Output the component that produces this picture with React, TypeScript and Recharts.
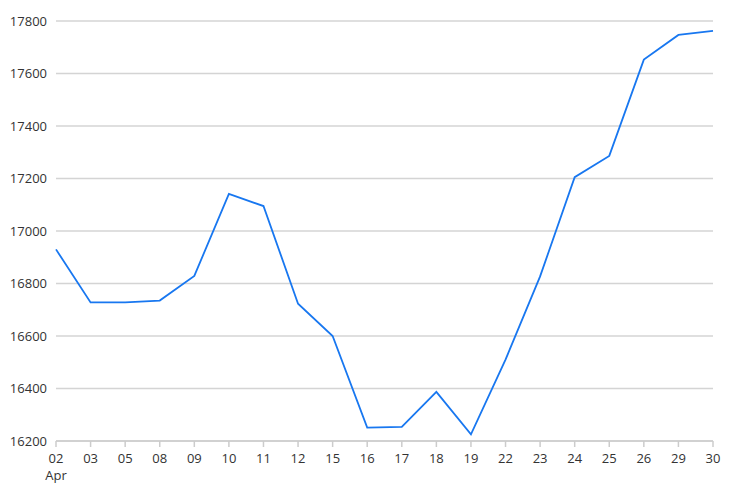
import React from 'react';
import { LineChart, Line, XAxis, YAxis, CartesianGrid } from 'recharts';

const days = ['02', '03', '05', '08', '09', '10', '11', '12', '15', '16', '17', '18', '19', '22', '23', '24', '25', '26', '29', '30'];
const prices = [16930, 16728, 16728, 16735, 16829, 17141, 17095, 16723, 16600, 16251, 16254, 16387, 16225, 16510, 16827, 17205, 17286, 17653, 17747, 17762];
const yTicks = [16200, 16400, 16600, 16800, 17000, 17200, 17400, 17600, 17800];

const data = days.map((d, i) => ({ day: d, price: prices[i] }));

const font = "'Open Sans', sans-serif";

function DayTick(props: any) {
  const { x, y, payload, index } = props;
  return (
    <g transform={`translate(${x},${y})`}>
      <text x={0} y={0} dy={14} textAnchor="middle" fill="#333" fontSize={13} fontFamily={font}>
        {payload.value}
      </text>
      {index === 0 && (
        <text x={0} y={0} dy={31} textAnchor="middle" fill="#333" fontSize={13} fontFamily={font}>
          Apr
        </text>
      )}
    </g>
  );
}

export default function App() {
  return (
    <div style={{ position: 'absolute', left: 0, top: 0, background: '#fff' }}>
      <LineChart width={736} height={496} data={data} margin={{ top: 21, right: 23, bottom: 15, left: 6 }}>
        <CartesianGrid vertical={false} stroke="#d4d4d4" strokeWidth={1.5} />
        <XAxis
          dataKey="day"
          interval={0}
          height={40}
          stroke="#ccc"
          strokeWidth={1.5}
          tickSize={6}
          tick={<DayTick />}
        />
        <YAxis
          domain={[16200, 17800]}
          ticks={yTicks}
          width={50}
          axisLine={false}
          tickLine={false}
          tickMargin={3}
          tick={{ fill: '#333', fontSize: 13, fontFamily: font }}
        />
        <Line
          type="linear"
          dataKey="price"
          stroke="#1877f0"
          strokeWidth={1.8}
          dot={false}
          activeDot={false}
          isAnimationActive={false}
        />
      </LineChart>
    </div>
  );
}
